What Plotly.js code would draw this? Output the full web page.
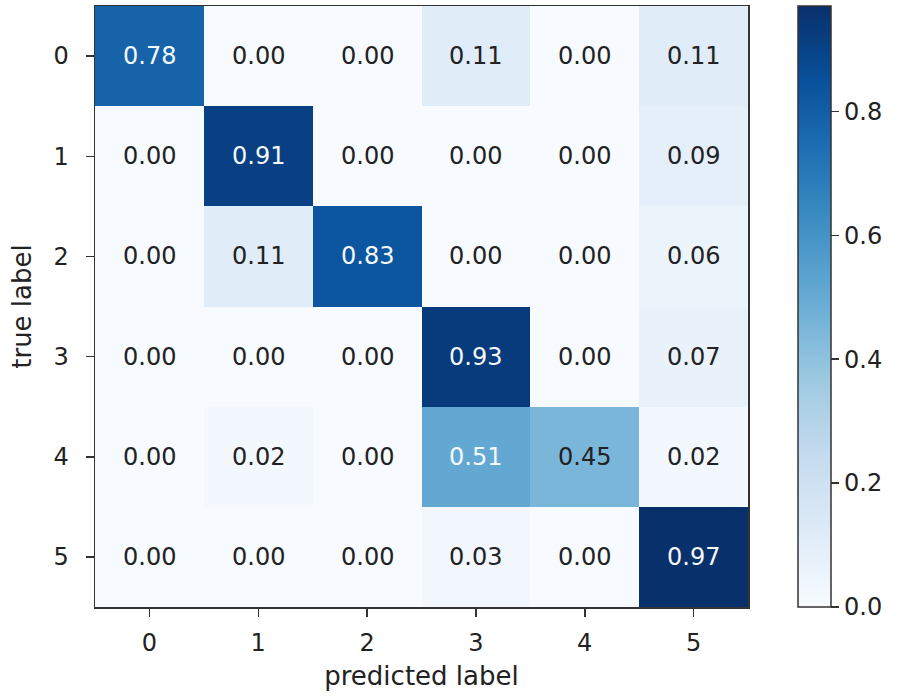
<!DOCTYPE html>
<html>
<head>
<meta charset="utf-8">
<script src="https://cdn.plot.ly/plotly-3.0.1.min.js"></script>
<style>html,body{margin:0;padding:0;background:#fff;}#chart{width:900px;height:697px;}</style>
</head>
<body>
<div id="chart"></div>
<script>
const predictedLabels = [0, 1, 2, 3, 4, 5];
const trueLabels = [0, 1, 2, 3, 4, 5];
const row0 = [0.78, 0.00, 0.00, 0.11, 0.00, 0.11];
const row1 = [0.00, 0.91, 0.00, 0.00, 0.00, 0.09];
const row2 = [0.00, 0.11, 0.83, 0.00, 0.00, 0.06];
const row3 = [0.00, 0.00, 0.00, 0.93, 0.00, 0.07];
const row4 = [0.00, 0.02, 0.00, 0.51, 0.45, 0.02];
const row5 = [0.00, 0.00, 0.00, 0.03, 0.00, 0.97];
const matrix = [row0, row1, row2, row3, row4, row5];
const colorbarTicks = [0, 0.2, 0.4, 0.6, 0.8];

const blues = [
  [0.0, '#f7fbff'], [0.125, '#deebf7'], [0.25, '#c6dbef'], [0.375, '#9ecae1'],
  [0.5, '#6baed6'], [0.625, '#4292c6'], [0.75, '#2171b5'], [0.875, '#08519c'], [1.0, '#08306b']
];

const FONT = 'DejaVu Sans';
const zmax = Math.max(...matrix.flat());
const thresh = zmax / 2;
const annotations = [];
matrix.forEach((row, i) => row.forEach((v, j) => {
  annotations.push({
    x: predictedLabels[j], y: trueLabels[i], xref: 'x', yref: 'y',
    text: v.toFixed(2), showarrow: false,
    font: {family: FONT, size: 24, color: v > thresh ? '#f4f8ff' : '#222222'}
  });
}));

const trace = {
  type: 'heatmap', x: predictedLabels, y: trueLabels, z: matrix,
  colorscale: blues, zmin: 0, zmax: zmax, xgap: 0, ygap: 0,
  hoverinfo: 'z',
  colorbar: {
    x: 1.0766, xanchor: 'left', xref: 'paper', y: 0.5, yanchor: 'middle',
    len: 1.0, lenmode: 'fraction', thickness: 33, thicknessmode: 'pixels',
    outlinewidth: 1.5, outlinecolor: '#333', borderwidth: 0,
    tickvals: colorbarTicks, tickformat: '.1f', tickprefix: '\u00a0',
    ticks: 'outside', ticklen: 8, tickwidth: 1.5, tickcolor: '#333',
    tickfont: {family: FONT, size: 24, color: '#222222'}, xpad: 0, ypad: 0
  }
};

const axisCommon = {
  showline: true, mirror: true, linecolor: '#333', linewidth: 1.5,
  ticks: 'outside', ticklen: 8, tickwidth: 1.5, tickcolor: '#333',
  tickfont: {family: FONT, size: 24, color: '#222222'},
  showgrid: false, zeroline: false, tickmode: 'array'
};

const layout = {
  width: 900, height: 697,
  margin: {l: 95, r: 152, t: 6, b: 90},
  paper_bgcolor: '#fff', plot_bgcolor: '#fff',
  xaxis: Object.assign({}, axisCommon, {
    tickvals: predictedLabels, ticktext: predictedLabels.map(String),
    range: [-0.5, 5.5], ticklabelstandoff: 6,
    title: {text: 'predicted label', font: {family: FONT, size: 26, color: '#222222'}, standoff: 10}
  }),
  yaxis: Object.assign({}, axisCommon, {
    tickvals: trueLabels, ticktext: trueLabels.map(String),
    range: [5.5, -0.5], ticklabelstandoff: 12,
    title: {text: 'true label', font: {family: FONT, size: 26, color: '#222222'}, standoff: 14}
  }),
  annotations: annotations
};

Plotly.newPlot('chart', [trace], layout, {displayModeBar: false, staticPlot: true});
</script>
</body>
</html>
